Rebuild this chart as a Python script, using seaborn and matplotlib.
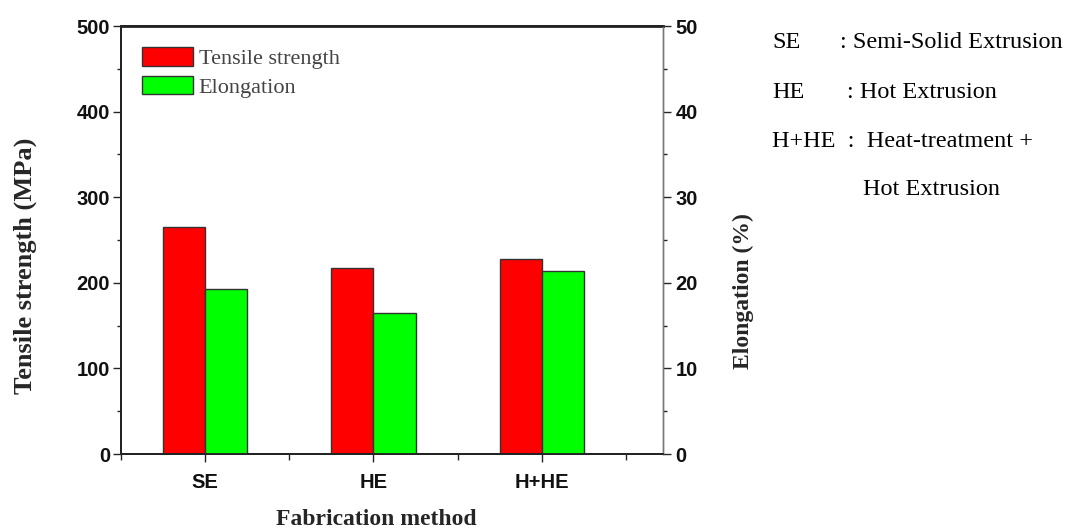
import matplotlib
matplotlib.use("Agg")
import matplotlib.pyplot as plt
import seaborn as sns
import pandas as pd
from matplotlib.ticker import MultipleLocator, FixedLocator
from matplotlib.patches import Patch

methods = ["SE", "HE", "H+HE"]
tensile = [265, 217, 228]
elongation = [19.3, 16.5, 21.4]
series_names = ["Tensile strength", "Elongation"]
colors = {"Tensile strength": "#ff0000", "Elongation": "#00ff00"}

df_t = pd.DataFrame({"method": methods, "value": tensile, "series": series_names[0]})
df_e = pd.DataFrame({"method": methods, "value": elongation, "series": series_names[1]})

sns.set_style("white")
fig = plt.figure(figsize=(10.69, 5.30), dpi=100)
ax1 = fig.add_axes([121/1069, 1-454/530, (663-121)/1069, (454-26)/530])
ax2 = ax1.twinx()

sns.barplot(data=df_t, x="method", y="value", hue="series", hue_order=series_names,
            order=methods, palette=colors, width=0.5, dodge=True, saturation=1, ax=ax1,
            edgecolor="#333333", linewidth=1.0, legend=False)
sns.barplot(data=df_e, x="method", y="value", hue="series", hue_order=series_names,
            order=methods, palette=colors, width=0.5, dodge=True, saturation=1, ax=ax2,
            edgecolor="#333333", linewidth=1.0, legend=False)

ax1.set_xlim(-0.5, 2.72)
ax1.set_ylim(0, 500)
ax2.set_ylim(0, 50)

ax1.yaxis.set_major_locator(MultipleLocator(100))
ax1.yaxis.set_minor_locator(MultipleLocator(50))
ax2.yaxis.set_major_locator(MultipleLocator(10))
ax2.yaxis.set_minor_locator(MultipleLocator(5))
ax1.xaxis.set_minor_locator(FixedLocator([-0.5, 0.5, 1.5, 2.5]))

for lab in ax1.get_yticklabels() + ax2.get_yticklabels() + ax1.get_xticklabels():
    lab.set_fontfamily("Liberation Sans")
    lab.set_fontweight("bold")
    lab.set_fontsize(14.5)
    lab.set_color("#111111")

ax1.tick_params(axis="y", which="major", direction="out", length=6, width=1, left=True, pad=2)
ax1.tick_params(axis="y", which="minor", direction="out", length=3, width=1, left=True)
ax1.tick_params(axis="x", which="major", direction="out", length=6, width=1, bottom=True, pad=8)
ax1.tick_params(axis="x", which="minor", direction="out", length=4, width=1, bottom=True)
ax2.tick_params(axis="y", which="major", direction="out", length=6, width=1, right=True, pad=3)
ax2.tick_params(axis="y", which="minor", direction="out", length=3, width=1, right=True)

for ax in (ax1, ax2):
    for side in ["left", "bottom", "top"]:
        ax.spines[side].set_color("#222222")
        ax.spines[side].set_linewidth(1.3)
    ax.spines["right"].set_color("#777777")
    ax.spines["right"].set_linewidth(1.0)
ax1.spines["top"].set_linewidth(2.0)

ax1.set_xlabel("Fabrication method", family="Liberation Serif", weight="bold", size=17)
ax1.set_ylabel("Tensile strength (MPa)", family="Liberation Serif", weight="bold", size=19)
ax2.set_ylabel("Elongation (%)", family="Liberation Serif", weight="bold", size=17)
ax1.xaxis.set_label_coords(0.4705, -0.129)
ax1.yaxis.set_label_coords(-0.155, 0.439)
ax2.yaxis.set_label_coords(1.129, 0.381)

handles = [Patch(facecolor=colors[s], edgecolor="#333333", label=s) for s in series_names]
leg = ax1.legend(handles=handles, loc="upper left", bbox_to_anchor=(0.0387, 0.95),
                 frameon=False, prop=dict(family="Liberation Serif", size=16),
                 handlelength=2.3, handleheight=0.9, handletextpad=0.25, labelspacing=0.3,
                 borderaxespad=0, borderpad=0)
for t in leg.get_texts():
    t.set_color("#444444")

ann = dict(family="Liberation Serif", size=17.5, color="black", va="center")
fig.text(772/1069, 1-43/530, "SE", **ann)
fig.text(840/1069, 1-43/530, ": Semi-Solid Extrusion", **ann)
fig.text(772/1069, 1-92/530, "HE", **ann)
fig.text(847/1069, 1-92/530, ": Hot Extrusion", **ann)
fig.text(772/1069, 1-142/530, "H+HE  :  Heat-treatment +", **ann)
fig.text(863/1069, 1-190/530, "Hot Extrusion", **ann)

fig.savefig("out.png", dpi=100)
